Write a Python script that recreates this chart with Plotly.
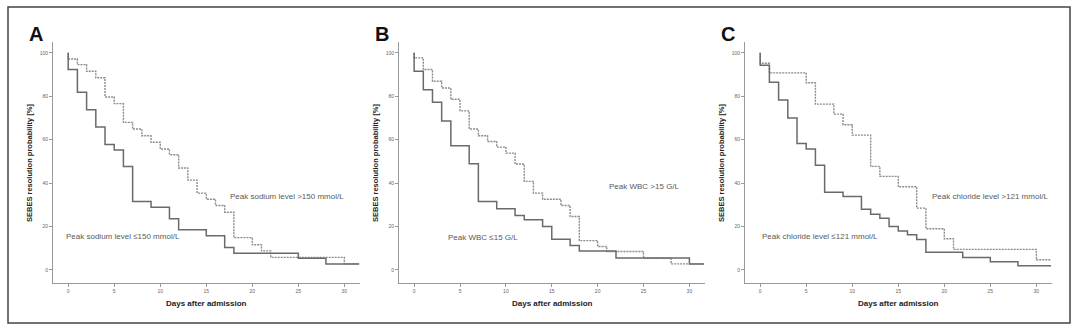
import plotly.graph_objects as go

# ---------------- data ----------------
days_ticks = [0, 5, 10, 15, 20, 25, 30]
prob_ticks = [0, 20, 40, 60, 80, 100]

# Panel A: peak sodium
A_low_t = [0, 0, 1, 2, 3, 4, 5, 6, 7, 9, 11, 12, 15, 17, 18, 25, 28, 31.6]
A_low_s = [100, 92.3, 81.8, 73.8, 65.8, 57.8, 55.2, 47.7, 31.5, 28.9, 23.6, 18.5, 15.8, 10.4, 7.7, 5.4, 2.7, 2.7]
A_high_t = [0, 0, 1, 2, 3, 4, 5, 6, 7, 8, 9, 10, 11, 12, 13, 14, 15, 16, 17, 18, 20, 21, 22, 30, 31.6]
A_high_s = [100, 97.2, 94.6, 91.5, 88.5, 79.7, 76.6, 68.0, 64.9, 61.8, 58.8, 55.7, 53.1, 47.0, 41.4, 35.4, 32.6, 29.7, 26.6, 14.9, 11.6, 8.8, 5.8, 2.8, 2.8]
A_labels = ["Peak sodium level ≤150 mmol/L", "Peak sodium level >150 mmol/L"]

# Panel B: peak WBC
B_low_t = [0, 0, 1, 2, 3, 4, 6, 7, 9, 11, 12, 14, 15, 17, 18, 22, 30, 31.6]
B_low_s = [100, 91.5, 83.0, 77.3, 68.6, 57.2, 48.9, 31.5, 28.2, 25.1, 23.1, 20.0, 14.2, 11.3, 8.7, 5.5, 2.8, 2.8]
B_high_t = [0, 0, 1, 2, 3, 4, 5, 6, 7, 8, 9, 10, 11, 12, 13, 14, 16, 17, 18, 20, 21, 25, 28, 31.6]
B_high_s = [100, 97.7, 92.3, 86.9, 83.8, 78.6, 73.3, 64.9, 61.8, 59.2, 56.6, 53.8, 48.8, 40.8, 35.4, 32.6, 29.7, 24.6, 13.5, 10.8, 8.5, 5.4, 2.8, 2.8]
B_labels = ["Peak WBC ≤15 G/L", "Peak WBC >15 G/L"]

# Panel C: peak chloride
C_low_t = [0, 0, 1, 2, 3, 4, 5, 6, 7, 9, 11, 12, 13, 14, 15, 16, 17, 18, 22, 25, 28, 31.6]
C_low_s = [100, 94.3, 86.5, 78.3, 70.0, 58.2, 55.7, 48.2, 35.8, 33.8, 28.0, 25.7, 23.8, 20.0, 18.0, 16.2, 14.0, 8.2, 5.7, 3.8, 2.0, 2.0]
C_high_t = [0, 0, 1, 5, 6, 8, 9, 10, 12, 13, 15, 17, 18, 20, 21, 30, 31.6]
C_high_s = [100, 95.2, 90.8, 86.2, 76.4, 71.8, 66.9, 62.1, 47.7, 43.1, 38.3, 28.5, 19.0, 14.4, 9.5, 4.7, 4.7]
C_labels = ["Peak chloride level ≤121 mmol/L", "Peak chloride level >121 mmol/L"]

panel_letters = ["A", "B", "C"]
x_title = "Days after admission"
y_title = "SEBES resolution probability [%]"

# ---------------- layout helpers ----------------
W, H = 1080, 329
FONT = "Arial, 'Liberation Sans', sans-serif"

def px(x):
    return x / W

def py(y):
    return 1 - y / H

panels = [
    dict(t_low=A_low_t, s_low=A_low_s, t_high=A_high_t, s_high=A_high_s, labels=A_labels,
         x0=53, x1=360, lab_low=(-0.5, 15.2), lab_high=(17.4, 34.0)),
    dict(t_low=B_low_t, s_low=B_low_s, t_high=B_high_t, s_high=B_high_s, labels=B_labels,
         x0=399, x1=705, lab_low=(3.5, 14.8), lab_high=(21.0, 38.3)),
    dict(t_low=C_low_t, s_low=C_low_s, t_high=C_high_t, s_high=C_high_s, labels=C_labels,
         x0=745, x1=1052, lab_low=(0.0, 15.2), lab_high=(18.4, 34.0)),
]

Y_TOP, Y_BOT = 42, 283
XR = [-1.65, 31.7]
YR = [-6, 105]

fig = go.Figure()
annotations = []
layout = dict(
    width=W, height=H,
    margin=dict(l=0, r=0, t=0, b=0),
    paper_bgcolor="white", plot_bgcolor="white",
    showlegend=False,
    font=dict(family=FONT, color="#555"),
)

for i, p in enumerate(panels):
    sfx = "" if i == 0 else str(i + 1)
    xa, ya = "x" + sfx, "y" + sfx
    fig.add_trace(go.Scatter(x=p["t_high"], y=p["s_high"], mode="lines", line_shape="hv",
                             line=dict(color="#8c8c8c", width=1.4, dash="2px,1px"),
                             xaxis=xa, yaxis=ya, hoverinfo="skip"))
    fig.add_trace(go.Scatter(x=p["t_low"], y=p["s_low"], mode="lines", line_shape="hv",
                             line=dict(color="#6a6a6a", width=1.5),
                             xaxis=xa, yaxis=ya, hoverinfo="skip"))
    common = dict(showgrid=False, zeroline=False, showline=True, linecolor="#9a9a9a",
                  linewidth=1, ticks="outside", ticklen=3, tickcolor="#9a9a9a", tickwidth=1,
                  tickfont=dict(size=5, color="#666", family=FONT))
    layout["xaxis" + sfx] = dict(domain=[px(p["x0"]), px(p["x1"])], range=XR,
                                 tickvals=days_ticks, anchor=ya, **common)
    layout["yaxis" + sfx] = dict(domain=[py(Y_BOT), py(Y_TOP)], range=YR,
                                 tickvals=prob_ticks, anchor=xa, **common)
    # series labels
    annotations.append(dict(x=p["lab_low"][0], y=p["lab_low"][1], xref=xa, yref=ya,
                            text=p["labels"][0], showarrow=False, xanchor="left", yanchor="middle",
                            font=dict(size=8, color="#5a5a5a", family=FONT)))
    annotations.append(dict(x=p["lab_high"][0], y=p["lab_high"][1], xref=xa, yref=ya,
                            text=p["labels"][1], showarrow=False, xanchor="left", yanchor="middle",
                            font=dict(size=8, color="#5a5a5a", family=FONT)))
    # axis titles
    annotations.append(dict(x=px((p["x0"] + p["x1"]) / 2), y=py(303), xref="paper", yref="paper",
                            text="<b>" + x_title + "</b>", showarrow=False,
                            xanchor="center", yanchor="middle",
                            font=dict(size=8, color="#222", family=FONT)))
    annotations.append(dict(x=px(p["x0"] - 24), y=py(163), xref="paper", yref="paper",
                            text="<b>" + y_title + "</b>", showarrow=False, textangle=-90,
                            xanchor="center", yanchor="middle",
                            font=dict(size=7.5, color="#222", family=FONT)))
    # panel letter
    annotations.append(dict(x=px(p["x0"] - 26), y=py(34), xref="paper", yref="paper",
                            text="<b>" + panel_letters[i] + "</b>", showarrow=False,
                            xanchor="left", yanchor="middle",
                            font=dict(size=20, color="#111", family=FONT)))

layout["annotations"] = annotations
layout["shapes"] = [dict(type="rect", xref="paper", yref="paper",
                         x0=px(8), x1=px(1070), y0=py(323), y1=py(7),
                         line=dict(color="#444", width=1.5))]
fig.update_layout(**layout)
fig.write_html("out.html")
